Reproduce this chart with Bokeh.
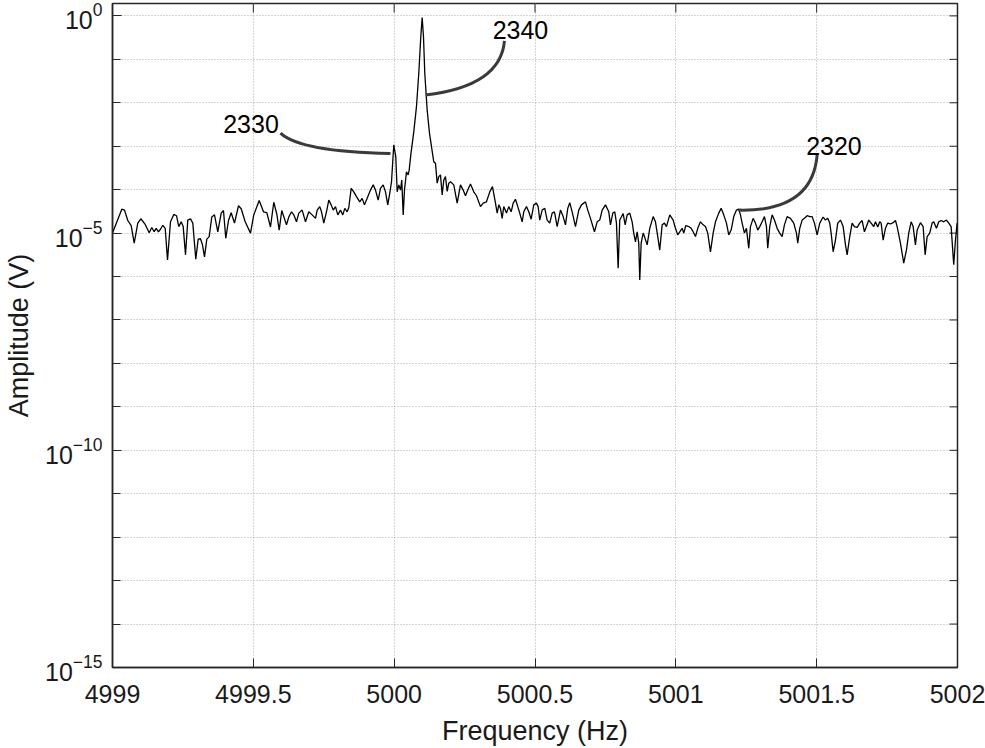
import math
from bokeh.plotting import figure
from bokeh.models import FixedTicker, Range1d, ColumnDataSource
from bokeh.core.properties import value
from bokeh.embed import file_html
from bokeh.resources import INLINE

# ---- spectrum: frequency (Hz) and log10 of amplitude (V)
freq_hz = [
    4999.0000, 4999.0330, 4999.0426, 4999.0543, 4999.0664, 4999.0770, 4999.0898, 4999.1005, 4999.1161, 4999.1303,
    4999.1395, 4999.1480, 4999.1551, 4999.1633, 4999.1715, 4999.1786, 4999.1871, 4999.1953, 4999.2059, 4999.2176,
    4999.2272, 4999.2354, 4999.2439, 4999.2510, 4999.2592, 4999.2673, 4999.2769, 4999.2851, 4999.2957, 4999.3042,
    4999.3124, 4999.3195, 4999.3266, 4999.3348, 4999.3433, 4999.3525, 4999.3621, 4999.3738, 4999.3859, 4999.3940,
    4999.4022, 4999.4118, 4999.4214, 4999.4331, 4999.4473, 4999.4569, 4999.4711, 4999.4899, 4999.5016, 4999.5208,
    4999.5361, 4999.5478, 4999.5609, 4999.5726, 4999.5833, 4999.5918, 4999.6010, 4999.6177, 4999.6259, 4999.6355,
    4999.6436, 4999.6532, 4999.6614, 4999.6734, 4999.6852, 4999.6969, 4999.7089, 4999.7207, 4999.7267, 4999.7359,
    4999.7420, 4999.7501, 4999.7597, 4999.7679, 4999.7764, 4999.7835, 4999.7917, 4999.7998, 4999.8094, 4999.8176,
    4999.8247, 4999.8332, 4999.8389, 4999.8474, 4999.8566, 4999.8662, 4999.8779, 4999.8864, 4999.8946, 4999.9042,
    4999.9159, 4999.9255, 4999.9337, 4999.9432, 4999.9514, 4999.9610, 4999.9692, 4999.9773, 4999.9844, 4999.9905,
    4999.9986, 5000.0057, 5000.0107, 5000.0164, 5000.0224, 5000.0270, 5000.0320, 5000.0366, 5000.0437, 5000.0497,
    5000.0533, 5000.0590, 5000.0696, 5000.0792, 5000.0874, 5000.0945, 5000.0994, 5000.1041, 5000.1087, 5000.1172,
    5000.1254, 5000.1325, 5000.1406, 5000.1467, 5000.1527, 5000.1584, 5000.1644, 5000.1704, 5000.1761, 5000.1822,
    5000.1882, 5000.1939, 5000.2000, 5000.2116, 5000.2237, 5000.2354, 5000.2450, 5000.2532, 5000.2613, 5000.2709,
    5000.2826, 5000.2922, 5000.3064, 5000.3160, 5000.3277, 5000.3394, 5000.3490, 5000.3597, 5000.3657, 5000.3714,
    5000.3774, 5000.3834, 5000.3891, 5000.3987, 5000.4069, 5000.4154, 5000.4225, 5000.4307, 5000.4388, 5000.4459,
    5000.4544, 5000.4601, 5000.4697, 5000.4779, 5000.4864, 5000.4956, 5000.5052, 5000.5112, 5000.5169, 5000.5254,
    5000.5347, 5000.5432, 5000.5524, 5000.5609, 5000.5691, 5000.5787, 5000.5904, 5000.6000, 5000.6082, 5000.6163,
    5000.6234, 5000.6330, 5000.6437, 5000.6554, 5000.6650, 5000.6792, 5000.6873, 5000.6969, 5000.7111, 5000.7207,
    5000.7299, 5000.7384, 5000.7502, 5000.7619, 5000.7679, 5000.7761, 5000.7832, 5000.7892, 5000.7952, 5000.8009,
    5000.8130, 5000.8201, 5000.8272, 5000.8364, 5000.8449, 5000.8506, 5000.8567, 5000.8627, 5000.8684, 5000.8719,
    5000.8769, 5000.8840, 5000.8887, 5000.8982, 5000.9074, 5000.9195, 5000.9277, 5000.9358, 5000.9429, 5000.9514,
    5000.9596, 5000.9667, 5000.9784, 5000.9905, 5000.9987, 5001.0068, 5001.0139, 5001.0224, 5001.0281, 5001.0352,
    5001.0459, 5001.0544, 5001.0615, 5001.0697, 5001.0778, 5001.0874, 5001.0970, 5001.1052, 5001.1133, 5001.1229,
    5001.1325, 5001.1407, 5001.1524, 5001.1609, 5001.1701, 5001.1797, 5001.1879, 5001.1964, 5001.2056, 5001.2152,
    5001.2234, 5001.2294, 5001.2354, 5001.2436, 5001.2507, 5001.2589, 5001.2649, 5001.2745, 5001.2827, 5001.2908,
    5001.2979, 5001.3064, 5001.3146, 5001.3217, 5001.3263, 5001.3334, 5001.3419, 5001.3501, 5001.3597, 5001.3689,
    5001.3774, 5001.3856, 5001.3952, 5001.4069, 5001.4186, 5001.4282, 5001.4328, 5001.4399, 5001.4484, 5001.4566,
    5001.4662, 5001.4754, 5001.4839, 5001.4921, 5001.5017, 5001.5109, 5001.5230, 5001.5312, 5001.5393, 5001.5464,
    5001.5514, 5001.5585, 5001.5667, 5001.5748, 5001.5844, 5001.5940, 5001.6022, 5001.6082, 5001.6174, 5001.6259,
    5001.6341, 5001.6437, 5001.6529, 5001.6614, 5001.6696, 5001.6767, 5001.6849, 5001.6934, 5001.7026, 5001.7087,
    5001.7168, 5001.7239, 5001.7289, 5001.7360, 5001.7442, 5001.7523, 5001.7619, 5001.7715, 5001.7797, 5001.7857,
    5001.7974, 5001.8091, 5001.8187, 5001.8269, 5001.8354, 5001.8425, 5001.8507, 5001.8567, 5001.8684, 5001.8780,
    5001.8851, 5001.8922, 5001.9014, 5001.9099, 5001.9156, 5001.9252, 5001.9334, 5001.9419, 5001.9511, 5001.9607,
    5001.9689, 5001.9774, 5001.9866, 5001.9927, 5001.9987,
]

amp_log10 = [
    -5.00, -4.45, -4.47, -4.71, -4.83, -5.23, -4.77, -4.67, -4.80, -4.99,
    -4.87, -4.97, -4.89, -4.97, -4.90, -4.82, -4.89, -5.62, -4.74, -4.57,
    -4.60, -4.85, -4.74, -4.85, -5.50, -4.70, -4.67, -4.77, -5.60, -5.14,
    -5.13, -5.27, -5.55, -5.14, -5.08, -4.63, -4.58, -4.97, -4.54, -4.48,
    -5.12, -4.71, -4.53, -4.77, -4.37, -4.44, -4.74, -5.00, -4.58, -4.25,
    -4.51, -4.53, -4.86, -4.29, -4.56, -4.93, -4.48, -4.81, -4.63, -4.51,
    -4.58, -4.74, -4.54, -4.47, -4.74, -4.51, -4.58, -4.66, -4.47, -4.39,
    -4.51, -4.77, -4.51, -4.24, -4.35, -4.47, -4.39, -4.58, -4.47, -4.58,
    -4.43, -4.51, -4.41, -3.97, -4.05, -4.16, -4.28, -4.20, -4.35, -4.20,
    -4.01, -3.89, -4.01, -4.24, -3.97, -3.89, -4.05, -4.35, -4.08, -3.82,
    -2.97, -3.24, -4.05, -3.89, -4.01, -3.78, -4.58, -4.01, -3.59, -3.66,
    -3.55, -3.20, -2.67, -2.09, -1.32, -0.48, -0.04, -0.48, -1.32, -2.17,
    -2.70, -3.01, -3.36, -3.39, -3.85, -3.70, -3.66, -4.12, -3.78, -3.70,
    -4.04, -3.85, -3.82, -3.89, -4.31, -3.89, -4.01, -4.14, -4.01, -3.87,
    -4.05, -4.14, -4.39, -4.31, -4.28, -4.05, -3.93, -4.31, -4.54, -4.35,
    -4.43, -4.66, -4.39, -4.54, -4.39, -4.51, -4.31, -4.22, -4.39, -4.54,
    -4.74, -4.51, -4.39, -4.51, -4.68, -4.35, -4.31, -4.39, -4.70, -4.47,
    -4.43, -4.70, -4.77, -4.54, -4.51, -4.85, -4.47, -4.62, -4.81, -4.43,
    -4.30, -4.54, -4.85, -4.47, -4.35, -4.28, -4.47, -4.66, -4.97, -4.74,
    -4.70, -4.47, -4.35, -4.51, -4.81, -4.54, -4.51, -4.77, -5.81, -4.70,
    -4.55, -4.81, -4.58, -4.54, -4.74, -5.00, -5.20, -4.97, -5.23, -6.08,
    -5.23, -5.00, -5.08, -5.27, -4.89, -4.62, -4.74, -5.08, -5.39, -4.81,
    -4.77, -4.85, -4.58, -4.70, -4.89, -5.04, -4.97, -4.89, -5.00, -4.83,
    -4.85, -4.89, -4.97, -5.08, -4.89, -4.74, -4.81, -4.85, -5.00, -5.43,
    -5.00, -4.74, -4.54, -4.43, -4.58, -4.77, -5.04, -4.93, -4.62, -4.47,
    -4.45, -4.58, -4.77, -5.00, -4.89, -5.35, -4.85, -4.66, -4.77, -4.93,
    -4.85, -4.74, -4.62, -4.85, -5.35, -4.85, -4.58, -4.70, -4.89, -5.00,
    -5.08, -4.81, -4.62, -4.66, -4.77, -5.00, -5.23, -4.89, -4.70, -4.66,
    -4.60, -4.62, -4.62, -4.77, -5.04, -4.77, -4.63, -4.70, -4.66, -4.77,
    -5.00, -5.43, -5.16, -4.77, -4.70, -4.85, -5.27, -5.50, -5.08, -4.77,
    -4.85, -4.87, -4.77, -4.71, -4.97, -4.85, -4.70, -4.77, -4.85, -4.74,
    -4.86, -4.74, -4.77, -5.16, -4.89, -4.77, -4.79, -4.76, -4.71, -4.85,
    -5.23, -5.69, -5.39, -5.00, -4.74, -4.85, -5.27, -4.93, -4.76, -4.85,
    -5.50, -5.08, -5.00, -4.77, -4.74, -4.89, -4.74, -4.71, -4.74, -4.70,
    -4.77, -4.85, -5.73, -5.16, -4.77,
]

amplitude_v = [10.0 ** e for e in amp_log10]

# ---- axes
x_min, x_max = 4999.0, 5002.0
y_min, y_max = 1e-15, 1.93
x_tick_values = [4999.0, 4999.5, 5000.0, 5000.5, 5001.0, 5001.5, 5002.0]
x_tick_labels = ["4999", "4999.5", "5000", "5000.5", "5001", "5001.5", "5002"]
y_tick_values = [1e-15, 1e-10, 1e-5, 1e0]
y_decades = [1e-15, 1e-14, 1e-13, 1e-12, 1e-11, 1e-10, 1e-9, 1e-8,
             1e-7, 1e-6, 1e-5, 1e-4, 1e-3, 1e-2, 1e-1, 1e0]

# ---- annotations (labels with curved leaders)
ann_labels = ["2340", "2330", "2320"]
ann_text_freq = [5000.4484, 4999.4917, 5001.5613]
ann_text_amp = [10 ** -0.33, 10 ** -2.49, 10 ** -3.00]
lead_start_freq = [5000.3916, 4999.5964, 5001.5017]
lead_start_amp = [10 ** -0.575, 10 ** -2.70, 10 ** -3.20]
lead_ctrl_freq = [5000.3774, 4999.6674, 5001.4850]
lead_ctrl_amp = [10 ** -1.62, 10 ** -3.13, 10 ** -4.51]
lead_end_freq = [5000.1117, 4999.9869, 5001.2234]
lead_end_amp = [10 ** -1.82, 10 ** -3.17, 10 ** -4.47]

FONT = "Liberation Sans"
DARK = "#262626"

p = figure(width=985, height=748, output_backend="svg", toolbar_location=None,
           y_axis_type="log",
           x_range=Range1d(x_min, x_max), y_range=Range1d(y_min, y_max),
           min_border_left=112, min_border_right=28, min_border_top=3, min_border_bottom=81,
           background_fill_color="white", border_fill_color="white")
p.outline_line_color = DARK
p.outline_line_width = 1.5

p.xaxis.ticker = FixedTicker(ticks=x_tick_values, minor_ticks=[])
p.yaxis.ticker = FixedTicker(ticks=y_tick_values, minor_ticks=y_decades)
p.xaxis.major_label_overrides = dict(zip(x_tick_values, x_tick_labels))

for ax in (p.xaxis[0], p.yaxis[0]):
    ax.axis_line_color = DARK
    ax.axis_line_width = 1.5
    ax.major_tick_line_color = DARK
    ax.minor_tick_line_color = DARK
    ax.major_tick_in = 9
    ax.major_tick_out = 0
    ax.minor_tick_in = 8
    ax.minor_tick_out = 0
    ax.major_label_text_font = FONT
    ax.major_label_text_font_size = "25px"
    ax.major_label_text_color = "#1a1a1a"
    ax.axis_label_text_font = FONT
    ax.axis_label_text_font_size = "27px"
    ax.axis_label_text_font_style = "normal"
    ax.axis_label_text_color = "#1a1a1a"

p.xaxis.axis_label = "Frequency (Hz)"
p.yaxis.axis_label = "Amplitude (V)"
p.xaxis.major_label_standoff = 17
p.xaxis.axis_label_standoff = 10
p.yaxis.major_label_standoff = 10
p.yaxis.axis_label_standoff = 8

p.xgrid.ticker = FixedTicker(ticks=x_tick_values, minor_ticks=[])
p.ygrid.ticker = FixedTicker(ticks=y_decades, minor_ticks=[])
for g in (p.xgrid[0], p.ygrid[0]):
    g.grid_line_color = "#ababab"
    g.grid_line_dash = "1 2"
    g.grid_line_width = 1

# ticks on the top and right edges of the box (inward)
p.ray(x=x_tick_values, y=[y_max] * len(x_tick_values), length=9, length_units="screen",
      angle=-math.pi / 2, line_color=DARK, line_width=1)
p.ray(x=[x_max] * len(y_decades), y=y_decades, length=8, length_units="screen",
      angle=math.pi, line_color=DARK, line_width=1)

src = ColumnDataSource(dict(f=freq_hz, a=amplitude_v))
p.line("f", "a", source=src, line_color="black", line_width=1.3)

lead_src = ColumnDataSource(dict(x0=lead_start_freq, y0=lead_start_amp,
                                 cx=lead_ctrl_freq, cy=lead_ctrl_amp,
                                 x1=lead_end_freq, y1=lead_end_amp))
p.quadratic(x0="x0", y0="y0", x1="x1", y1="y1", cx="cx", cy="cy", source=lead_src,
            line_color="#3a3a3a", line_width=3)

txt_src = ColumnDataSource(dict(x=ann_text_freq, y=ann_text_amp, t=ann_labels))
p.text(x="x", y="y", text="t", source=txt_src, text_font=value(FONT),
       text_font_size="25px", text_align="center", text_baseline="middle",
       text_color="black")

open("out.html", "w").write(file_html(p, INLINE))
